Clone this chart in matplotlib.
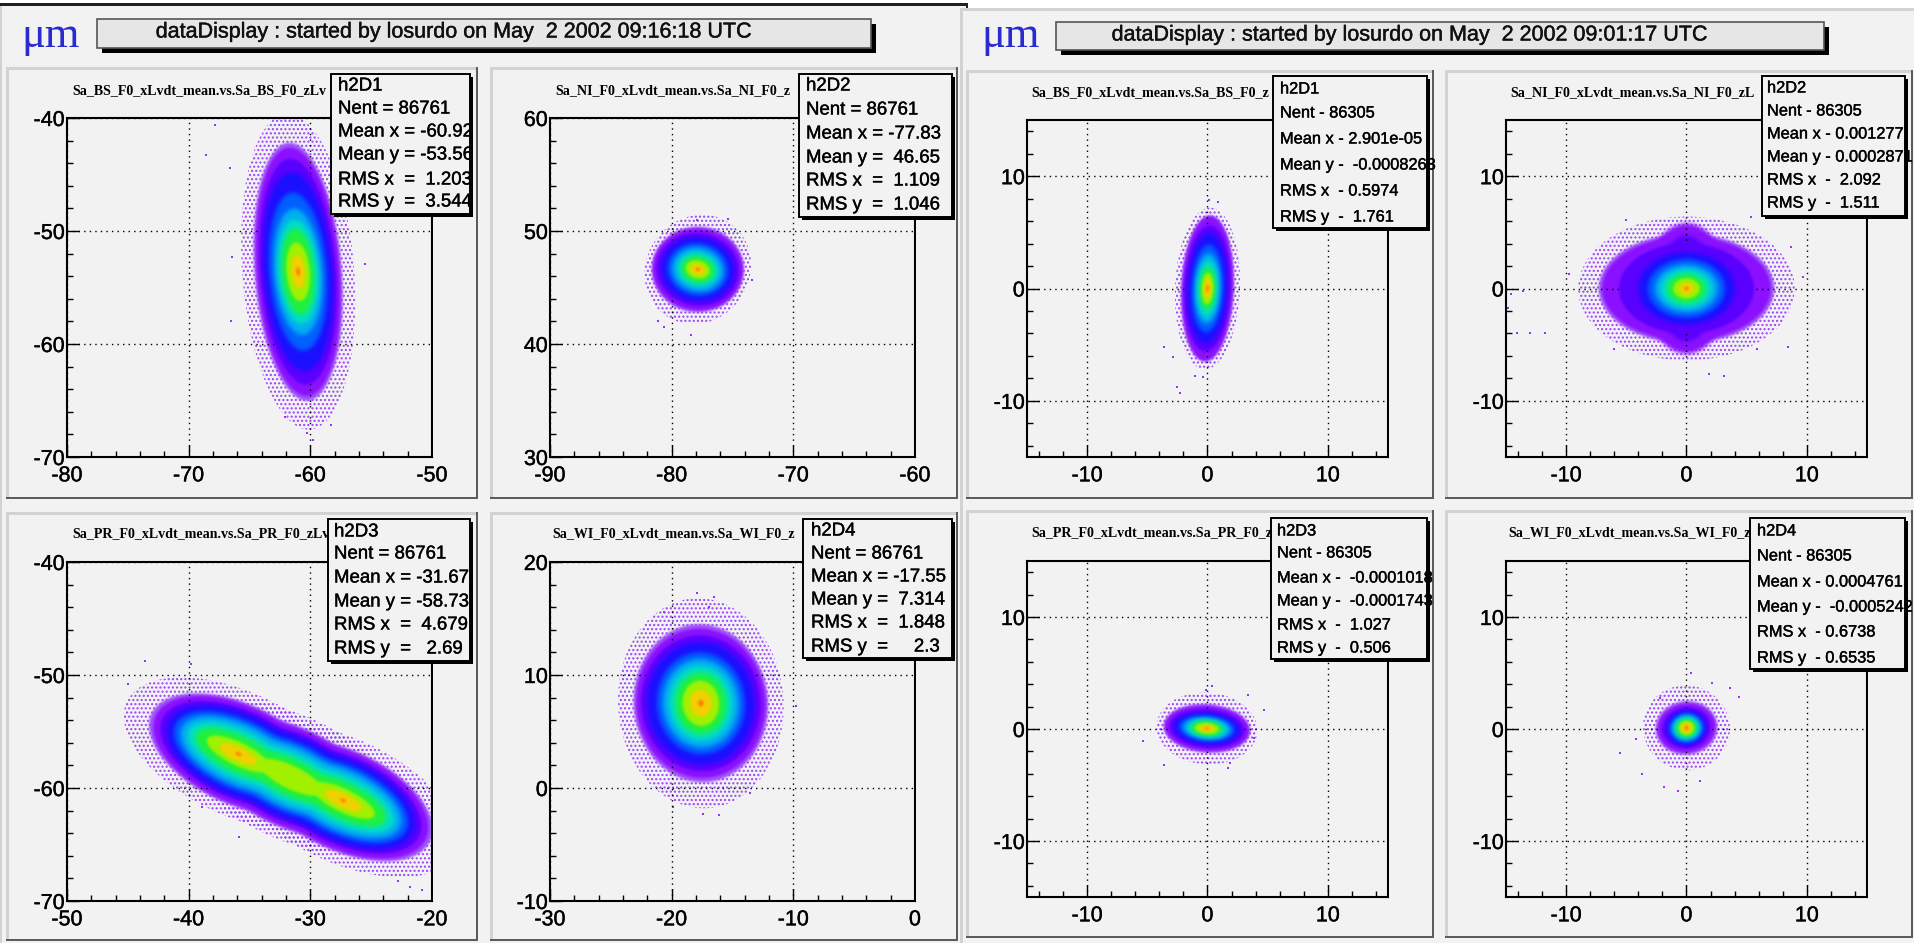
import matplotlib
matplotlib.use("Agg")
import matplotlib.pyplot as plt
import matplotlib.colors as mc
import matplotlib.patheffects as pe
import numpy as np
from matplotlib.patches import Ellipse, Rectangle
from matplotlib.ticker import MultipleLocator

W, H = 1915, 943
plt.rcParams['font.family'] = ['Liberation Sans', 'DejaVu Sans']
plt.rcParams['hatch.linewidth'] = 1.0

# ---- data ----
titles_main = ["dataDisplay : started by losurdo on May  2 2002 09:16:18 UTC",
               "dataDisplay : started by losurdo on May  2 2002 09:01:17 UTC"]
# the visible part of each title: the stats box hides the rest in the reference
t_p1 = "Sa_BS_F0_xLvdt_mean.vs.Sa_BS_F0_zLv"
t_p2 = "Sa_NI_F0_xLvdt_mean.vs.Sa_NI_F0_z"
t_p3 = "Sa_PR_F0_xLvdt_mean.vs.Sa_PR_F0_zLv"
t_p4 = "Sa_WI_F0_xLvdt_mean.vs.Sa_WI_F0_z"
t_r1 = "Sa_BS_F0_xLvdt_mean.vs.Sa_BS_F0_z"
t_r2 = "Sa_NI_F0_xLvdt_mean.vs.Sa_NI_F0_zL"
t_r3 = "Sa_PR_F0_xLvdt_mean.vs.Sa_PR_F0_z"
t_r4 = "Sa_WI_F0_xLvdt_mean.vs.Sa_WI_F0_z"

band_colors = ['#b98cf6', '#8a10ff', '#5a00ff', '#1a10ff', '#0060ff', '#00b0f0',
               '#00e0c0', '#20f040', '#a0f000', '#f0d000', '#ff7a00']
mid_color = '#a050fa'

# x/y limits
lim_p1 = ((-80, -50), (-70, -40)); lim_p2 = ((-90, -60), (30, 60))
lim_p3 = ((-50, -20), (-70, -40)); lim_p4 = ((-30, 0), (-10, 20))
lim_r = ((-15, 15), (-15, 15))

# blob centres, tilt and half-sizes of each colour band
p1_center, p1_tilt = [(-61.0, -53.6)], 4
p1_hw = [4.6, 3.4, 3.1, 2.8, 2.35, 1.95, 1.65, 1.35, 0.95, 0.55, 0.15]
p1_hh = [14.0, 11, 10.0, 8.8, 7.0, 5.6, 4.6, 3.8, 2.6, 1.5, 0.4]
p2_center, p2_tilt = [(-77.85, 46.6)], -20
p2_hw = [4.3, 3.7, 3.4, 3.0, 2.5, 2.1, 1.7, 1.4, 1.0, 0.6, 0.18]
p2_hh = [4.9, 3.6, 3.2, 2.8, 2.3, 1.9, 1.5, 1.15, 0.8, 0.45, 0.16]
p3_center, p3_tilt = [(-35.9, -57.0), (-31.6, -59.05), (-27.3, -61.1)], -28
p3_hw = [10.3, 7.6, 7.0, 6.4, 5.8, 5.2, 4.6, 3.9, 2.9, 1.7, 0.25]
p3_hh = [5.4, 4.2, 3.8, 3.5, 3.0, 2.6, 2.1, 1.6, 1.0, 0.6, 0.15]
p4_center, p4_tilt = [(-17.6, 7.5)], 3
p4_hw = [6.8, 5.3, 4.9, 4.4, 3.6, 3.1, 2.6, 2.1, 1.5, 0.9, 0.22]
p4_hh = [9.3, 6.6, 6.0, 5.4, 4.5, 3.9, 3.3, 2.7, 2.0, 1.2, 0.3]
r1_center, r1_tilt = [(0.0, 0.0)], -2
r1_hw = [2.7, 2.1, 1.9, 1.65, 1.3, 1.05, .85, .65, .5, .3, .1]
r1_hh = [7.2, 6.4, 5.6, 4.9, 3.9, 3.1, 2.5, 1.9, 1.4, 0.9, 0.35]
r2_center, r2_tilt = [(0.0, 0.0)], 0
r2_hw = [9.0, 7.0, 5.6, 4.0, 3.2, 2.6, 2.1, 1.6, 1.1, .6, .2]
r2_hh = [6.4, 4.6, 4.0, 3.2, 2.6, 2.1, 1.7, 1.3, .9, .5, .15]
r3_center, r3_tilt = [(-0.05, 0.05)], -5
r3_hw = [4.2, 3.5, 3.1, 2.75, 2.3, 1.95, 1.6, 1.3, 1.0, .6, .2]
r3_hh = [3.2, 2.0, 1.7, 1.4, 1.1, .95, .8, .65, .5, .32, .1]
r4_center, r4_tilt = [(0.0, 0.1)], 12
r4_hw = [3.6, 2.4, 2.0, 1.65, 1.4, 1.2, 1.0, .85, .65, .45, .17]
r4_hh = [3.8, 2.15, 1.8, 1.55, 1.3, 1.1, .95, .8, .65, .45, .2]

# extra vertical lobes of the cross-shaped panel: hw, hh, band index
r2_lobes = [(3.5, 5.8, 1), (2.4, 4.7, 2)]

# stray points
p1_x = [-67.8, -68.6, -66.6, -66.4, -55.5, -66.5, -58.3, -59.8, -60.3, -62.1]
p1_y = [-40.6, -43.3, -44.4, -52.3, -52.9, -58, -67.2, -68.5, -67.9, -66.5]
p2_x = [-78.4, -80.6, -81.1, -75.4, -77.9, -73.4]
p2_y = [40.8, 41.5, 42, 51.1, 51, 45.7]
p3_x = [-43.6, -39.8, -45, -35.9, -20.8, -21.8, -22.8, -38.9]
p3_y = [-48.8, -49, -50.8, -64.3, -69, -68.8, -68.2, -61.7]
p4_x = [-17.9, -16.5, -16.9, -20.6, -9.8, -16.1, -17.4, -19.9, -13.6]
p4_y = [17.3, 16.9, 16, 15.6, 7.3, -2.4, -2.3, -1.7, -.4]
r1_x = [-2.5, -2.3, -1, -.35, .15, .9, -3.6, -2.9]
r1_y = [-8.8, -9.3, -7.8, -7.9, 7.9, 7.7, -5.2, -6.1]
r2_x = [-14.6, -14.8, -14.1, -13, -11.8, -13.6, -9.8, -5, 5.4, 8.7, 9.7, 8.4, 5.9, 3.1, 1.9, -6]
r2_y = [-.5, -1.7, -4, -4, -4, -.2, 1.3, 6.1, 6.4, 3.7, 1, -5.2, -5.4, -7.8, -7.6, -5.4]
r3_x = [-5.4, -3.6, 1.7, 1.9, .4, -.1, 3.4, 4.7, 3.9]
r3_y = [-1.1, -3.2, -3.5, -3, 3.8, 3.5, 3, 1.7, -.8]
r4_x = [-5.5, -4.2, -3.7, -1.9, -.7, 1.1, 2.1, 3.6, 4.4, .35, -2.2]
r4_y = [-2.1, -.9, -4, -5.2, -5.5, -4.6, 4.1, 3.7, 2.9, 5, 2.8]

s_p1 = ["h2D1", "Nent = 86761", "Mean x = -60.92", "Mean y = -53.56", "RMS x  =  1.203", "RMS y  =  3.544"]
s_p2 = ["h2D2", "Nent = 86761", "Mean x = -77.83", "Mean y =  46.65", "RMS x  =  1.109", "RMS y  =  1.046"]
s_p3 = ["h2D3", "Nent = 86761", "Mean x = -31.67", "Mean y = -58.73", "RMS x  =  4.679", "RMS y  =   2.69"]
s_p4 = ["h2D4", "Nent = 86761", "Mean x = -17.55", "Mean y =  7.314", "RMS x  =  1.848", "RMS y  =     2.3"]
s_r1 = ["h2D1", "Nent - 86305", "Mean x - 2.901e-05", "Mean y -  -0.0008263", "RMS x  - 0.5974", "RMS y  -  1.761"]
s_r2 = ["h2D2", "Nent - 86305", "Mean x - 0.001277", "Mean y - 0.0002871", "RMS x  -  2.092", "RMS y  -  1.511"]
s_r3 = ["h2D3", "Nent - 86305", "Mean x -  -0.0001018", "Mean y -  -0.0001743", "RMS x  -  1.027", "RMS y  -  0.506"]
s_r4 = ["h2D4", "Nent - 86305", "Mean x - 0.0004761", "Mean y -  -0.0005242", "RMS x  - 0.6738", "RMS y  - 0.6535"]

# ---- layout (pixels) ----
panels = [
 dict(pad=(6, 67, 478, 499), ax=(67, 118, 432, 457), lim=lim_p1, c=p1_center, t=p1_tilt, hw=p1_hw, hh=p1_hh, lobes=[], sc=(p1_x, p1_y),
      title=t_p1, tx=72, ty=91, box=(331, 74, 470, 214), sx=338, sy=[86, 109, 132, 155, 180, 202], s=s_p1, fs=13.4),
 dict(pad=(490, 67, 958, 499), ax=(550, 118, 915, 457), lim=lim_p2, c=p2_center, t=p2_tilt, hw=p2_hw, hh=p2_hh, lobes=[], sc=(p2_x, p2_y),
      title=t_p2, tx=555, ty=91, box=(799, 74, 952, 217), sx=806, sy=[86, 110, 134, 158, 181, 205], s=s_p2, fs=13.4),
 dict(pad=(6, 512, 478, 941), ax=(67, 562, 432, 901), lim=lim_p3, c=p3_center, t=p3_tilt, hw=p3_hw, hh=p3_hh, lobes=[], sc=(p3_x, p3_y),
      title=t_p3, tx=72, ty=534, box=(328, 519, 470, 661), sx=334, sy=[532, 554, 578, 602, 625, 649], s=s_p3, fs=13.4),
 dict(pad=(490, 512, 958, 941), ax=(550, 562, 915, 901), lim=lim_p4, c=p4_center, t=p4_tilt, hw=p4_hw, hh=p4_hh, lobes=[], sc=(p4_x, p4_y),
      title=t_p4, tx=552, ty=534, box=(803, 519, 952, 658), sx=811, sy=[531, 554, 577, 600, 623, 647], s=s_p4, fs=13.4),
 dict(pad=(966, 70, 1434, 499), ax=(1027, 120, 1388, 457), lim=lim_r, c=r1_center, t=r1_tilt, hw=r1_hw, hh=r1_hh, lobes=[], sc=(r1_x, r1_y),
      title=t_r1, tx=1031, ty=93, box=(1273, 76, 1427, 228), sx=1280, sy=[89, 113, 139, 165, 191, 217], s=s_r1, fs=11.8),
 dict(pad=(1445, 70, 1913, 499), ax=(1506, 120, 1867, 457), lim=lim_r, c=r2_center, t=r2_tilt, hw=r2_hw, hh=r2_hh, lobes=r2_lobes, sc=(r2_x, r2_y),
      title=t_r2, tx=1510, ty=93, box=(1762, 76, 1905, 216), sx=1767, sy=[88, 111, 134, 157, 180, 203], s=s_r2, fs=11.8),
 dict(pad=(966, 510, 1434, 938), ax=(1027, 561, 1388, 897), lim=lim_r, c=r3_center, t=r3_tilt, hw=r3_hw, hh=r3_hh, lobes=[], sc=(r3_x, r3_y),
      title=t_r3, tx=1031, ty=533, box=(1271, 518, 1427, 659), sx=1277, sy=[531, 553, 578, 601, 625, 648], s=s_r3, fs=11.8),
 dict(pad=(1445, 510, 1913, 938), ax=(1506, 561, 1867, 897), lim=lim_r, c=r4_center, t=r4_tilt, hw=r4_hw, hh=r4_hh, lobes=[], sc=(r4_x, r4_y),
      title=t_r4, tx=1508, ty=533, box=(1750, 518, 1905, 669), sx=1757, sy=[531, 556, 582, 607, 632, 658], s=s_r4, fs=11.8),
]

BG = '#f2f2f2'
bold = [pe.withStroke(linewidth=0.3, foreground='#101010')]
fig = plt.figure(figsize=(W / 100, H / 100), dpi=100, facecolor=BG)
bg = fig.add_axes([0, 0, 1, 1], zorder=0)
bg.set_xlim(0, W); bg.set_ylim(H, 0); bg.axis('off')
fg = fig.add_axes([0, 0, 1, 1], zorder=10)
fg.set_xlim(0, W); fg.set_ylim(H, 0); fg.axis('off'); fg.patch.set_alpha(0)


def soft(color, r):
    """Soften a band's edge: blur the alpha of the drawn patch."""
    rgb = mc.to_rgb(color)

    def box(a, axis):
        return sum(np.roll(a, k, axis=axis) for k in range(-r, r + 1)) / (2 * r + 1)

    def flt(im, dpi):
        pad = 3 * r + 2
        out = np.pad(im, ((pad, pad), (pad, pad), (0, 0)))
        a = out[..., 3]
        for _ in range(2):
            a = box(box(a, 0), 1)
        out[..., 0], out[..., 1], out[..., 2] = rgb
        out[..., 3] = a
        return out, -pad, -pad
    return flt


def bevel(ax, x0, y0, x1, y1, light='#d2d2d2', dark='#5c5c5c', w=3):
    ax.add_patch(Rectangle((x0, y0), x1 - x0, y1 - y0, fc=BG, ec='none'))
    ax.add_patch(Rectangle((x0, y0), x1 - x0, w, fc=light, ec='none'))
    ax.add_patch(Rectangle((x0, y0), w, y1 - y0, fc=light, ec='none'))
    ax.add_patch(Rectangle((x1 - 2, y0), 2, y1 - y0, fc=dark, ec='none'))
    ax.add_patch(Rectangle((x0, y1 - 2), x1 - x0, 2, fc=dark, ec='none'))


# canvas edges
bg.add_patch(Rectangle((0, 0), W, 3, fc='white', ec='none'))
bg.add_patch(Rectangle((0, 3), 968, 3, fc='#202020', ec='none'))
bg.add_patch(Rectangle((966, 3), 2, 5, fc='#202020', ec='none'))
bg.add_patch(Rectangle((968, 0), W - 968, 8, fc='white', ec='none'))
bg.add_patch(Rectangle((960, 8), W - 960, 3, fc='#d2d2d2', ec='none'))
bg.add_patch(Rectangle((960, 8), 3, H, fc='#d2d2d2', ec='none'))
bg.add_patch(Rectangle((0, 6), 2, H, fc='#d2d2d2', ec='none'))

# header boxes
for (x0, y0, x1, y1, txt, tx0, tx1, ty, mx) in [
        (97, 19, 871, 48, titles_main[0], 154, 753, 32, 21),
        (1056, 22, 1824, 50, titles_main[1], 1112, 1707, 35, 981)]:
    fg.add_patch(Rectangle((x0 + 5, y0 + 5), x1 - x0, y1 - y0, fc='black', ec='none'))
    fg.add_patch(Rectangle((x0, y0), x1 - x0, y1 - y0, fc='#e6e6e6', ec='#555555', lw=1.2))
    fg.text((tx0 + tx1) / 2, ty, txt, ha='center', va='center', fontsize=15.5, color='#101010', path_effects=bold)
    fg.text(mx, 36, "\u03bcm", family=['Liberation Serif', 'DejaVu Serif'], fontsize=32,
            color='#2a2ad0', ha='left', va='center')

for p in panels:
    bevel(bg, *p['pad'])
    x0, y0, x1, y1 = p['ax']
    ax = fig.add_axes([x0 / W, 1 - y1 / H, (x1 - x0) / W, (y1 - y0) / H], zorder=5)
    ax.set_facecolor(BG)
    (xa, xb), (ya, yb) = p['lim']
    ax.set_xlim(xa, xb); ax.set_ylim(ya, yb)
    for k, c in enumerate(p['c']):
        for i, (hw, hh) in enumerate(zip(p['hw'], p['hh'])):
            if len(p['c']) == 3 and k == 1 and i >= 9:
                continue  # the tilted panel peaks at its two ends only
            if i == 0:
                ax.add_patch(Ellipse(c, 2 * hw, 2 * hh, angle=p['t'], fc='none', ec='#9a40ff', lw=0,
                                     hatch='....', zorder=1))
                mw = p['hw'][1] + 0.15 * (hw - p['hw'][1])
                mh = p['hh'][1] + 0.15 * (hh - p['hh'][1])
                e = Ellipse(c, 2 * mw, 2 * mh, angle=p['t'], fc=mid_color, ec='none', zorder=1.2)
                e.set_agg_filter(soft(mid_color, 1)); ax.add_patch(e)
            else:
                e = Ellipse(c, 2 * hw, 2 * hh, angle=p['t'], fc=band_colors[i], ec='none', zorder=1 + i)
                e.set_agg_filter(soft(band_colors[i], 2 if 3 <= i < 8 else 1))
                ax.add_patch(e)
    for lw_, lh_, li in p['lobes']:
        e = Ellipse(p['c'][0], 2 * lw_, 2 * lh_, fc=band_colors[li], ec='none', zorder=1 + li - 0.5)
        e.set_agg_filter(soft(band_colors[li], 2)); ax.add_patch(e)
    ax.plot(p['sc'][0], p['sc'][1], ls='none', marker='s', ms=1.8, mew=0, color='#9a30ff', zorder=1.1)
    ax.xaxis.set_major_locator(MultipleLocator(10))
    ax.yaxis.set_major_locator(MultipleLocator(10))
    ax.xaxis.set_minor_locator(MultipleLocator(2))
    ax.yaxis.set_minor_locator(MultipleLocator(2))
    ax.grid(True, which='major', color='black', linestyle=(0, (1, 3)), lw=1.0, zorder=20)
    ax.set_axisbelow(False)
    ax.tick_params(which='major', direction='in', length=8.6, width=1.0, labelsize=15.5, color='black', top=False, right=False)
    ax.tick_params(which='minor', direction='in', length=4, width=1.0, top=False, right=False)
    ax.tick_params(axis='x', which='major', pad=6)
    ax.tick_params(axis='y', which='major', pad=1.5)
    for s in ax.spines.values():
        s.set_linewidth(1.5); s.set_color('black')
    fmt = lambda v, pos=None: f"{int(round(v))}"
    ax.xaxis.set_major_formatter(fmt); ax.yaxis.set_major_formatter(fmt)
    for lab in ax.get_xticklabels() + ax.get_yticklabels():
        lab.set_path_effects(bold)

    # blurred bands are not clipped by the axes: cover what leaves on the right
    fg.add_patch(Rectangle((x1 + 1, y0), 6, y1 - y0, fc=BG, ec='none', zorder=0))

    fg.text(p['tx'], p['ty'], p['title'], family=['Liberation Serif'], fontweight='bold', fontsize=10.1,
            ha='left', va='center', color='black', zorder=1)
    bx0, by0, bx1, by1 = p['box']
    fg.add_patch(Rectangle((bx0 + 3, by0 + 3), bx1 - bx0, by1 - by0, fc='black', ec='none', zorder=2))
    fg.add_patch(Rectangle((bx0, by0), bx1 - bx0, by1 - by0, fc=BG, ec='black', lw=1.4, zorder=3))
    for yy, line in zip(p['sy'], p['s']):
        fg.text(p['sx'], yy, line, fontsize=p['fs'], ha='left', va='center', color='black', zorder=4, path_effects=bold)

fig.savefig('out.png', dpi=100, facecolor=fig.get_facecolor())
